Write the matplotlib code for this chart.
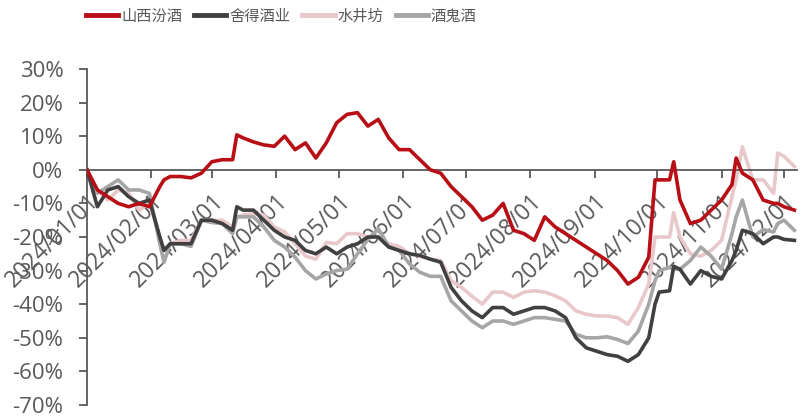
import matplotlib
matplotlib.use('Agg')
import matplotlib.pyplot as plt
import matplotlib.dates as mdates
from matplotlib.ticker import FuncFormatter
import pandas as pd

plt.rcParams['font.family'] = ['Open Sans', 'Noto Sans CJK SC', 'DejaVu Sans']

# Dates (sampled) and cumulative returns in %
dates = ['2024-01-01', '2024-01-06', '2024-01-11', '2024-01-16', '2024-01-21', '2024-01-26', '2024-01-31',
         '2024-02-05', '2024-02-07', '2024-02-10', '2024-02-15', '2024-02-20', '2024-02-25',
         '2024-03-01', '2024-03-06', '2024-03-11', '2024-03-13', '2024-03-16', '2024-03-21', '2024-03-26', '2024-03-31',
         '2024-04-05', '2024-04-10', '2024-04-15', '2024-04-20', '2024-04-25', '2024-04-30',
         '2024-05-05', '2024-05-10', '2024-05-15', '2024-05-20', '2024-05-25', '2024-05-30',
         '2024-06-04', '2024-06-09', '2024-06-14', '2024-06-19', '2024-06-24', '2024-06-29',
         '2024-07-04', '2024-07-09', '2024-07-14', '2024-07-19', '2024-07-24', '2024-07-29',
         '2024-08-03', '2024-08-08', '2024-08-13', '2024-08-18', '2024-08-23', '2024-08-28',
         '2024-09-02', '2024-09-07', '2024-09-12', '2024-09-17', '2024-09-22', '2024-09-27', '2024-09-30',
         '2024-10-02', '2024-10-07', '2024-10-09', '2024-10-12', '2024-10-17', '2024-10-22', '2024-10-27',
         '2024-11-01', '2024-11-06', '2024-11-08', '2024-11-11', '2024-11-16', '2024-11-21', '2024-11-26', '2024-11-28',
         '2024-12-01', '2024-12-06']

fenjiu = [0, -6, -8, -10, -11, -10, -11,
          -5, -3, -2, -2, -2.4, -1,
          2.4, 3, 3, 10.4, 9.5, 8.3, 7.4, 7,
          10, 6, 8, 3.5, 8, 14,
          16.5, 17, 13, 15, 9.5, 6,
          6, 3, 0, -1, -5, -8,
          -11, -15, -13.5, -10, -18, -19,
          -21, -14, -17, -19, -21, -23,
          -25, -27, -30, -34, -32, -26, -3,
          -3, -3, 2.4, -9, -16, -15, -12,
          -9, -4.4, 3.5, -1, -3, -9, -10, -10,
          -11, -12]

shede = [0, -11, -6, -5, -8, -10, -9,
         -20, -24, -22, -22, -22, -15,
         -15, -16, -18, -11, -12, -12, -15, -18,
         -20, -21, -24, -25, -23, -25,
         -23, -22, -20, -20, -23, -24,
         -25, -25.5, -26.6, -27.5, -35, -39,
         -42, -44, -41, -41, -43, -42,
         -41, -41, -42, -44, -50, -53,
         -54, -55, -55.5, -57, -55, -50, -40,
         -36.4, -36, -28.7, -29.6, -34, -30, -31.7,
         -32.5, -27, -24, -18, -19, -22, -20, -20,
         -20.7, -21]

shuijingfang = [0, -6, -9, -6, -7, -12, -10,
                -20, -24, -22, -21, -21, -15,
                -15, -15, -17, -14, -13.5, -13, -13.5, -17,
                -18.5, -22, -25.7, -26.6, -21.6, -22,
                -19, -19, -20, -20, -22, -22.8,
                -25, -25.7, -26.6, -27, -33, -35,
                -37.6, -40, -36.4, -36.4, -38, -36.4,
                -36, -36.4, -37.5, -39, -42, -43,
                -43.5, -43.5, -44, -46, -41, -34, -20,
                -20, -20, -12.7, -20, -25, -25.7, -24,
                -21, -8, -3, 6.8, -3, -3, -7, 5,
                4, 1]

jiuguijiu = [0, -7, -5, -3, -6, -6, -7,
             -22, -27.5, -22, -22, -22.8, -15,
             -15.7, -16, -19, -14, -14, -14, -17, -21,
             -23, -26, -30, -32.5, -31, -30,
             -29.6, -25, -20.7, -17.5, -22.8, -24,
             -28, -30.5, -31.7, -31.7, -39, -42,
             -45, -47, -45, -45, -46, -45,
             -44, -44, -44.5, -45, -49, -50,
             -50, -49.7, -50.5, -51.7, -48, -40, -33,
             -30, -29, -29.6, -29.6, -27, -23, -25.7,
             -29.6, -19, -14, -9, -20, -17.8, -18.5, -16,
             -15, -18]

names = ['山西汾酒', '舍得酒业', '水井坊', '酒鬼酒']
colors = ['#B80F16', '#404040', '#E8C8CB', '#A6A6A6']
zorders = [5, 4, 2, 3]

x = pd.to_datetime(dates)
series = [fenjiu, shede, shuijingfang, jiuguijiu]

fig = plt.figure(figsize=(8.02, 4.18), dpi=100)
ax = fig.add_axes([87/802, 13/418, 710/802, 336/418])

handles = []
for vals, name, c, z in zip(series, names, colors, zorders):
	h, = ax.plot(x, vals, color=c, lw=2.6, zorder=z, label=name, solid_joinstyle='round')
	handles.append(h)

ax.set_ylim(-70, 30)
ax.set_yticks(range(-70, 31, 10))
ax.yaxis.set_major_formatter(FuncFormatter(lambda v, p: f'{v:.0f}%'))
ax.set_xlim(pd.Timestamp('2024-01-01'), pd.Timestamp('2024-12-07 06:00'))
ax.xaxis.set_major_locator(mdates.MonthLocator())
ax.xaxis.set_major_formatter(mdates.DateFormatter('%Y/%m/%d'))

grey = '#595959'
for s in ['top', 'right']:
	ax.spines[s].set_visible(False)
ax.spines['bottom'].set_position(('data', 0))
ax.spines['bottom'].set_color(grey)
ax.spines['left'].set_color(grey)
ax.spines['bottom'].set_linewidth(1.3)
ax.spines['left'].set_linewidth(1.3)
ax.tick_params(axis='y', colors=grey, labelcolor=grey, labelsize=16, length=6, width=1.3, pad=11)
ax.tick_params(axis='x', colors=grey, labelcolor=grey, labelsize=16.5, length=6, width=1.3, pad=8)
for lab in ax.get_xticklabels():
	lab.set_rotation(45)
	lab.set_ha('right')
	lab.set_va('top')
	lab.set_rotation_mode('anchor')

leg = fig.legend(handles=handles, labels=names, loc='center left', bbox_to_anchor=(72/802, 1 - 16/418),
                 ncol=4, frameon=False, handlelength=2.1, handletextpad=0.2, columnspacing=0.8,
                 prop={'family': ['Noto Sans CJK SC'], 'size': 11})
for t in leg.get_texts():
	t.set_color(grey)
for l in leg.get_lines():
	l.set_linewidth(3.5)

fig.savefig('out.png', dpi=100)
